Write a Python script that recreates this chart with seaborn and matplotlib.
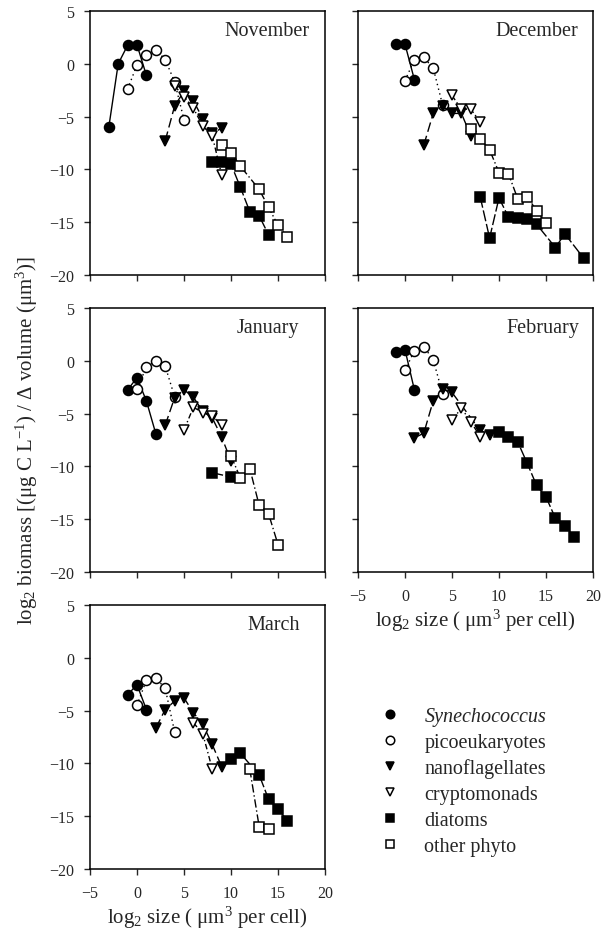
import numpy as np
import pandas as pd
import matplotlib
matplotlib.use("Agg")
import matplotlib.pyplot as plt
from matplotlib.lines import Line2D
import seaborn as sns

# ---- data: (log2 size, log2 biomass / d volume) per group and month ----
groups = ["Synechococcus", "picoeukaryotes", "nanoflagellates",
          "cryptomonads", "diatoms", "other phyto"]

nov_syn = ([-3, -2, -1, 0, 1], [-6.0, 0.0, 1.75, 1.8, -1.1])
nov_pico = ([-1, 0, 1, 2, 3, 4, 5], [-2.4, -0.1, 0.85, 1.3, 0.4, -1.7, -5.3])
nov_nano = ([3, 4, 5, 6, 7, 8, 9], [-7.3, -4.0, -2.6, -3.5, -5.2, -6.6, -6.1])
nov_crypto = ([4, 5, 6, 7, 8, 9], [-2.1, -3.1, -4.2, -5.9, -6.8, -10.5])
nov_diatom = ([8, 9, 10, 11, 12, 13, 14], [-9.3, -9.3, -9.5, -11.7, -14.0, -14.4, -16.2])
nov_other = ([9, 10, 11, 13, 14, 15, 16], [-7.7, -8.4, -9.7, -11.9, -13.6, -15.3, -16.4])

dec_syn = ([-1, 0, 1], [1.9, 1.85, -1.5])
dec_pico = ([0, 1, 2, 3, 4], [-1.6, 0.4, 0.6, -0.4, -3.9])
dec_nano = ([2, 3, 4, 5, 6, 7], [-7.7, -4.7, -4.0, -4.7, -4.7, -6.8])
dec_crypto = ([5, 6, 7, 8], [-3.0, -4.3, -4.3, -5.5])
dec_diatom = ([8, 9, 10, 11, 12, 13, 14, 16, 17, 19],
              [-12.6, -16.5, -12.7, -14.5, -14.6, -14.7, -15.2, -17.4, -16.1, -18.4])
dec_other = ([7, 8, 9, 10, 11, 12, 13, 14, 15],
             [-6.15, -7.1, -8.15, -10.3, -10.4, -12.8, -12.6, -13.9, -15.1])

jan_syn = ([-1, 0, 1, 2], [-2.75, -1.6, -3.8, -6.9])
jan_pico = ([0, 1, 2, 3, 4], [-2.65, -0.6, 0.0, -0.5, -3.4])
jan_nano = ([3, 4, 5, 6, 7, 8, 9, 10], [-6.1, -3.5, -2.75, -3.45, -4.8, -5.4, -7.2, -9.5])
jan_crypto = ([5, 6, 7, 8, 9], [-6.55, -4.4, -4.9, -5.2, -6.1])
jan_diatom = ([8, 10], [-10.6, -11.0])
jan_other = ([10, 11, 12, 13, 14, 15], [-9.0, -11.1, -10.2, -13.7, -14.5, -17.4])

feb_syn = ([-1, 0, 1], [0.8, 1.05, -2.75])
feb_pico = ([0, 1, 2, 3, 4], [-0.9, 0.95, 1.35, 0.1, -3.1])
feb_nano = ([1, 2, 3, 4, 5, 8, 9], [-7.3, -6.85, -3.8, -2.7, -3.0, -6.6, -7.0])
feb_crypto = ([5, 6, 7, 8], [-5.6, -4.5, -5.75, -7.2])
feb_diatom = ([10, 11, 12, 13, 14, 15, 16, 17, 18],
              [-6.7, -7.2, -7.7, -9.7, -11.8, -12.9, -14.9, -15.6, -16.7])
feb_other = ([], [])

mar_syn = ([-1, 0, 1], [-3.5, -2.55, -4.9])
mar_pico = ([0, 1, 2, 3, 4], [-4.5, -2.1, -1.9, -2.9, -7.0])
mar_nano = ([2, 3, 4, 5, 6, 7, 8, 9], [-6.65, -4.9, -4.1, -3.8, -5.2, -6.3, -8.2, -10.3])
mar_crypto = ([6, 7, 8], [-6.15, -7.2, -10.5])
mar_diatom = ([10, 11, 13, 14, 15, 16], [-9.6, -9.05, -11.1, -13.4, -14.3, -15.45])
mar_other = ([12, 13, 14], [-10.55, -16.0, -16.2])

months = ["November", "December", "January", "February", "March"]
month_data = [
    [nov_syn, nov_pico, nov_nano, nov_crypto, nov_diatom, nov_other],
    [dec_syn, dec_pico, dec_nano, dec_crypto, dec_diatom, dec_other],
    [jan_syn, jan_pico, jan_nano, jan_crypto, jan_diatom, jan_other],
    [feb_syn, feb_pico, feb_nano, feb_crypto, feb_diatom, feb_other],
    [mar_syn, mar_pico, mar_nano, mar_crypto, mar_diatom, mar_other],
]

# ---- style ----
sns.set_style("ticks")
plt.rcParams["font.family"] = ["Liberation Serif", "DejaVu Serif"]
plt.rcParams["mathtext.fontset"] = "custom"
plt.rcParams["mathtext.rm"] = "Liberation Serif"
plt.rcParams["mathtext.it"] = "Liberation Serif:italic"

markers = ["o", "o", "v", "v", "s", "s"]
faces = ["black", "white", "black", "white", "black", "white"]
sizes = [7.2, 7.2, 7.4, 7.4, 6.6, 6.6]
lstyles = ["-", (0, (1, 2.5)), (0, (7, 3)), (0, (4, 2, 1, 2)),
           (0, (8, 2)), (0, (6, 2, 1, 2))]

fig = plt.figure(figsize=(6.02, 9.37), dpi=100)
W, H = 602, 937
pw, ph = 235, 264
lefts = [90, 358]
tops = [12, 309, 606]
cells = [(0, 0), (0, 1), (1, 0), (1, 1), (2, 0)]
title_inset = [15, 15, 26, 14, 25]

for m, (r, c) in enumerate(cells):
    ax = fig.add_axes([lefts[c] / W, 1 - (tops[r] + ph) / H, pw / W, ph / H])
    for g in range(6):
        xs, ys = month_data[m][g]
        if len(xs) == 0:
            continue
        df = pd.DataFrame({"x": xs, "y": ys})
        sns.lineplot(data=df, x="x", y="y", ax=ax, color="black",
                     linestyle=lstyles[g], linewidth=1.0,
                     marker=markers[g], markersize=sizes[g],
                     markerfacecolor=faces[g], markeredgecolor="black",
                     markeredgewidth=1.1, zorder=3 + g)
    ax.set_xlim(-5, 20)
    ax.set_ylim(-20, 5)
    ax.set_xticks(np.arange(-5, 21, 5))
    ax.set_yticks(np.arange(-20, 6, 5))
    ax.tick_params(direction="out", length=4, width=1.0, labelsize=11.5,
                   top=False, right=False, pad=7.5)
    for sp in ax.spines.values():
        sp.set_linewidth(1.1)
        sp.set_color("black")
    ax.set_xlabel("")
    ax.set_ylabel("")
    if m in (3, 4):
        ax.set_xlabel(r"log$_2$ size ( $\mathrm{\mu}$m$^3$ per cell)",
                      fontsize=15, labelpad=2)
    else:
        ax.tick_params(labelbottom=False)
    if c == 1:
        ax.tick_params(labelleft=False)
    ax.text(1 - title_inset[m] / pw, 0.925, months[m], transform=ax.transAxes,
            ha="right", va="center", fontsize=14.5)

fig.text(27 / W, 1 - 441 / H,
         r"log$_2$ biomass [($\mathrm{\mu}$g C L$^{-1}$) / $\Delta$ volume ($\mathrm{\mu}$m$^3$)]",
         rotation=90, ha="center", va="center", fontsize=15)

handles = [Line2D([], [], linestyle="none", marker=markers[g], markersize=sizes[g] * 0.85,
                  markerfacecolor=faces[g], markeredgecolor="black",
                  markeredgewidth=1.1, color="black") for g in range(6)]
leg = fig.legend(handles, groups, loc="upper left",
                 bbox_to_anchor=(380 / W, 1 - 708 / H), frameon=False,
                 fontsize=14.5, handlelength=1.0, handletextpad=1.2,
                 labelspacing=0.33, borderpad=0, borderaxespad=0)
leg.get_texts()[0].set_fontstyle("italic")

fig.savefig("out.png", dpi=100)
